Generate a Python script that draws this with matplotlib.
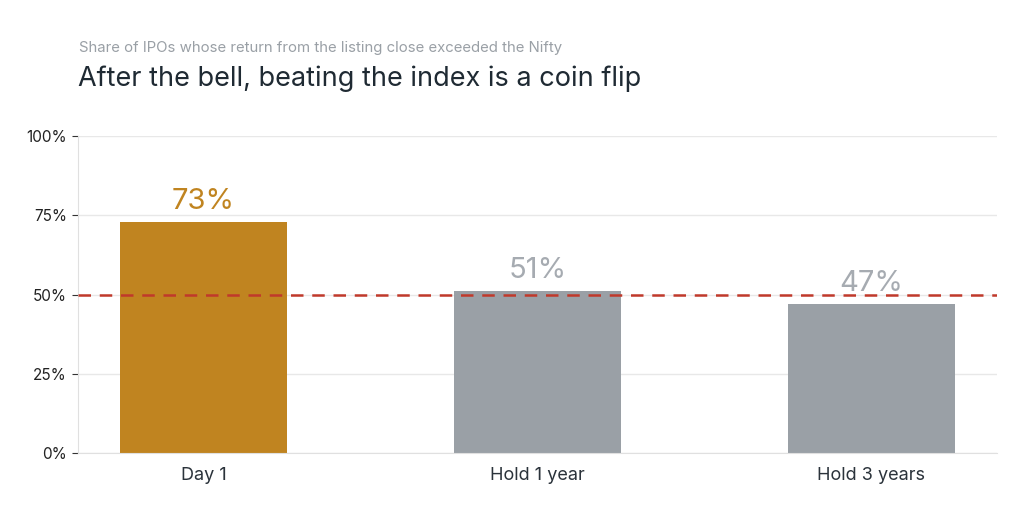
import matplotlib.pyplot as plt
from matplotlib.ticker import FuncFormatter

plt.rcParams['font.family'] = ['Inter', 'DejaVu Sans']

# data
categories = ['Day 1', 'Hold 1 year', 'Hold 3 years']
share_beat = [73, 51, 47]
bar_colors = ['#C08420', '#9AA0A6', '#9AA0A6']
label_colors = ['#C08420', '#A6ABB1', '#A6ABB1']
y_ticks = [0, 25, 50, 75, 100]
coin_flip = 50

fig = plt.figure(figsize=(10.24, 5.12), dpi=100)
ax = fig.add_axes([0.0762, 0.1152, 0.8974, 0.6188])

x = range(len(categories))
bars = ax.bar(x, share_beat, width=0.5, color=bar_colors, zorder=2)

# подписи над столбиками
for b, v, c in zip(bars, share_beat, label_colors):
    ax.annotate(f'{v}%', (b.get_x() + b.get_width() / 2, v),
                xytext=(0, 5), textcoords='offset points',
                ha='center', va='bottom', fontsize=21, color=c, zorder=4)

# линия 50%
ax.axhline(coin_flip, color='#C0392B', linewidth=1.8, linestyle=(0, (5, 3.5)), zorder=3)

ax.set_xlim(-0.376, 2.376)
ax.set_ylim(0, 100)
ax.set_yticks(y_ticks)
ax.yaxis.set_major_formatter(FuncFormatter(lambda v, p: f'{v:.0f}%'))
ax.set_xticks(list(x))
ax.set_xticklabels(categories)

ax.grid(axis='y', color='#E8E8E8', linewidth=1, zorder=0)
ax.set_axisbelow(True)
for s in ['top', 'right']:
    ax.spines[s].set_visible(False)
ax.spines['left'].set_color('#E0E0E0')
ax.spines['bottom'].set_color('#E0E0E0')
ax.tick_params(axis='y', length=4, width=0.8, color='#333333', labelsize=11, labelcolor='#222222', pad=4)
ax.tick_params(axis='x', length=0, labelsize=13, labelcolor='#2B333B', pad=10)

fig.text(0.0771, 0.906, 'Share of IPOs whose return from the listing close exceeded the Nifty',
         fontsize=10.75, color='#9AA0A6', ha='left', va='center')
fig.text(0.0762, 0.846, 'After the bell, beating the index is a coin flip',
         fontsize=19.5, color='#1F2A33', ha='left', va='center')

fig.savefig('out.png', dpi=100)
